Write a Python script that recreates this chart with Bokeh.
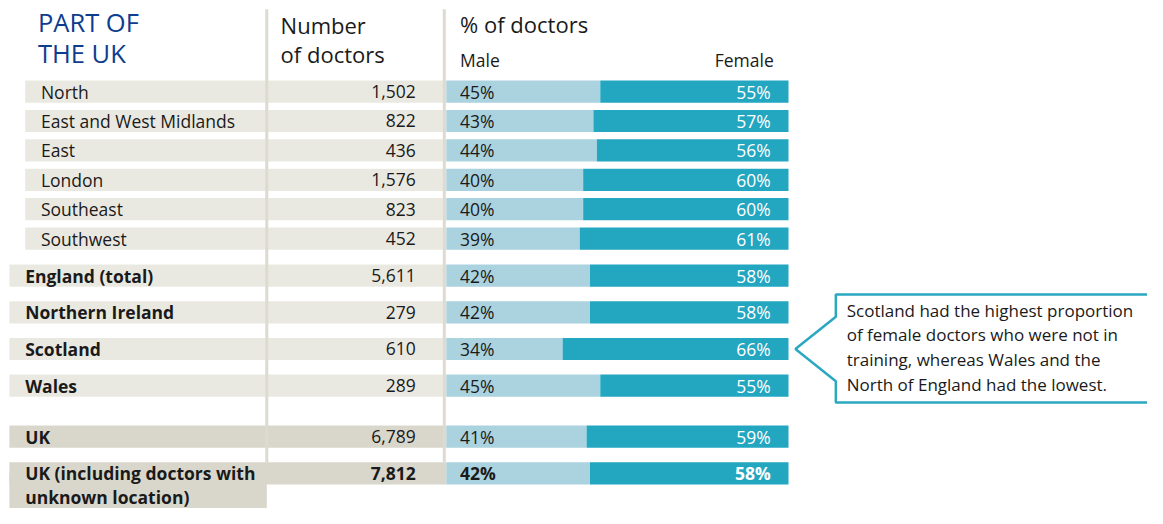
from bokeh.plotting import figure
from bokeh.models import Range1d, ColumnDataSource
from bokeh.core.properties import value
from bokeh.embed import file_html
from bokeh.resources import INLINE

# ---------------- data ----------------
regions = ["North", "East and West Midlands", "East", "London", "Southeast", "Southwest",
           "England (total)", "Northern Ireland", "Scotland", "Wales", "UK",
           "UK (including doctors with\nunknown location)"]
doctors = [1502, 822, 436, 1576, 823, 452, 5611, 279, 610, 289, 6789, 7812]
male_pct = [45, 43, 44, 40, 40, 39, 42, 42, 34, 45, 41, 42]
female_pct = [55, 57, 56, 60, 60, 61, 58, 58, 66, 55, 59, 58]
row_kind = ["sub"] * 6 + ["country"] * 4 + ["uk", "ukall"]
note_lines = ["Scotland had the highest proportion", "of female doctors who were not in",
              "training, whereas Wales and the", "North of England had the lowest."]

# ---------------- layout ----------------
FONT = value("Open Sans")
W, H = 1147, 508
X_END, Y_END = 1163, 527
row_y = [94.5, 125, 155.5, 186, 216.5, 247, 285.5, 323.5, 361.5, 399.5, 452.5, 490.5]
BAND_H = 23
BAR_X0, BAR_PX_PER_PCT = 452, 3.47

p = figure(width=W, height=H, output_backend="svg", toolbar_location=None,
           x_range=Range1d(0, X_END), y_range=Range1d(Y_END, 0),
           min_border=0, outline_line_color=None)
p.axis.visible = False
p.grid.visible = False
p.extra_x_ranges = {"pct": Range1d((0 - BAR_X0) / BAR_PX_PER_PCT,
                                   (X_END - BAR_X0) / BAR_PX_PER_PCT)}

LIGHT, DARK = "#eae9e1", "#d9d7cc"
MALE_C, FEMALE_C = "#abd2df", "#23a6c0"
LINE_C = "#dddbd0"
TXT = "#1a1a1a"

# row bands (label + number columns)
band_left = [25 if k == "sub" else 9 for k in row_kind]
band_col = [DARK if k in ("uk", "ukall") else LIGHT for k in row_kind]
p.hbar(y=row_y, left=band_left, right=BAR_X0, height=BAND_H, fill_color=band_col, line_color=None)
# extra cell for the two-line label
p.quad(left=9, right=270, top=row_y[-1], bottom=540, fill_color=DARK, line_color=None)

# column separators
p.segment(x0=[270, 450], y0=[9, 9], x1=[270, 450], y1=[row_y[-1] - BAND_H / 2] * 2,
          line_color=LINE_C, line_width=3)

# bars
src = ColumnDataSource(dict(y=row_y, m=male_pct, f=female_pct))
p.hbar(y="y", left=0, right="m", height=BAND_H, fill_color=MALE_C, line_color=None,
       source=src, x_range_name="pct")
p.hbar(y="y", left="m", right=100, height=BAND_H, fill_color=FEMALE_C, line_color=None,
       source=src, x_range_name="pct")

# headers
p.text(x=[38, 38], y=[22.5, 54.5], text=["PART OF", "THE UK"], text_font=FONT,
       text_font_size="25.5px", text_color="#0d3d8e", text_baseline="middle")
p.text(x=[284, 284], y=[25.5, 56], text=["Number", "of doctors"], text_font=FONT,
       text_font_size="22px", text_color=TXT, text_baseline="middle")
p.text(x=[466], y=[24.5], text=["% of doctors"], text_font=FONT,
       text_font_size="22px", text_color=TXT, text_baseline="middle")
p.text(x=[466], y=[61.5], text=["Male"], text_font=FONT,
       text_font_size="17.5px", text_color=TXT, text_baseline="middle")
p.text(x=[784], y=[61.5], text=["Female"], text_font=FONT, text_align="right",
       text_font_size="17.5px", text_color=TXT, text_baseline="middle")

# row labels
for lab, y, k in zip(regions, row_y, row_kind):
    for i, line in enumerate(lab.split("\n")):
        p.text(x=[41 if k == "sub" else 25], y=[y + i * 24.5], text=[line], text_font=FONT,
               text_font_size="17.5px", text_color=TXT, text_baseline="middle",
               text_font_style="normal" if k == "sub" else "bold")

# numbers and percentages
for n, m, f, y, k in zip(doctors, male_pct, female_pct, row_y, row_kind):
    st = "bold" if k == "ukall" else "normal"
    p.text(x=[421], y=[y], text=[f"{n:,}"], text_font=FONT, text_font_size="17.5px",
           text_color=TXT, text_align="right", text_baseline="middle", text_font_style=st)
    p.text(x=[466], y=[y], text=[f"{m}%"], text_font=FONT, text_font_size="17.5px",
           text_color=TXT, text_baseline="middle", text_font_style=st)
    p.text(x=[781], y=[y], text=[f"{f}%"], text_font=FONT, text_font_size="17.5px",
           text_color="white", text_align="right", text_baseline="middle", text_font_style=st)

# callout
p.patch(x=[1180, 847, 847, 806, 847, 847, 1180], y=[305, 305, 328, 361.5, 395, 417, 417],
        fill_color="white", line_color="#2aa8c2", line_width=2.5)
p.text(x=[858] * 4, y=[322, 347, 372, 398], text=note_lines, text_font=FONT,
       text_font_size="17px", text_color=TXT, text_baseline="middle")

open("out.html", "w").write(file_html(p, INLINE))
